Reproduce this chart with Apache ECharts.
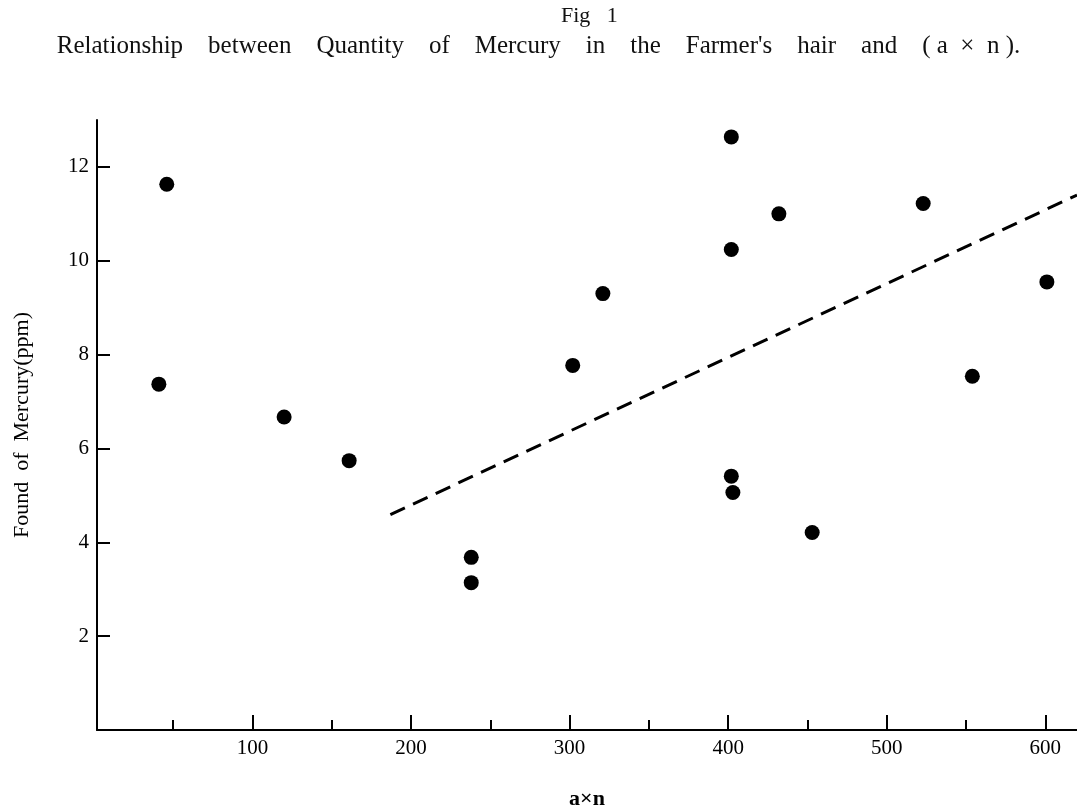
<!DOCTYPE html>
<html>
<head>
<meta charset="utf-8">
<title>Fig 1</title>
<script src="https://cdn.jsdelivr.net/npm/echarts@6/dist/echarts.min.js"></script>
<style>
  html, body {
    margin: 0;
    padding: 0;
    background: #fff;
  }
  #main {
    width: 1077px;
    height: 809px;
  }
</style>
</head>
<body>
<div id="main"></div>
<script>
// a x n for each farmer
var axn = [41, 46, 120, 161, 238, 238, 302, 321, 402, 402, 402, 403, 432, 453, 523, 554, 601];
// mercury found in hair (ppm)
var mercury = [7.37, 11.63, 6.67, 5.74, 3.68, 3.14, 7.77, 9.3, 12.64, 10.24, 5.41, 5.06, 11.0, 4.21, 11.22, 7.54, 9.55];
// dashed trend line, two end points
var trendX = [187, 620];
var trendY = [4.59, 11.4];
// tick labels
var xMajorTicks = [100, 200, 300, 400, 500, 600];
var xMinorTicks = [50, 150, 250, 350, 450, 550];
var yTicks = [2, 4, 6, 8, 10, 12];

var serif = "'Liberation Serif', 'DejaVu Serif', serif";

var points = axn.map(function(x, i) {
  return [x, mercury[i]];
});
var trend = trendX.map(function(x, i) {
  return [x, trendY[i]];
});

var myChart = echarts.init(document.getElementById("main"));
myChart.setOption({
  backgroundColor: "#fff",
  animation: false,
  title: [
    {
      text: "Fig   1",
      left: 556,
      top: 0,
      textStyle: {
        fontFamily: serif,
        fontWeight: "normal",
        fontSize: 22,
        color: "#111"
      }
    },
    {
      text: "Relationship    between    Quantity    of    Mercury    in    the    Farmer's    hair    and    ( a  ×  n ).",
      left: "center",
      top: 29,
      textStyle: {
        fontFamily: serif,
        fontWeight: "normal",
        fontSize: 25,
        color: "#111"
      }
    }
  ],
  grid: {
    left: 97,
    right: 0,
    top: 120,
    bottom: 79,
    outerBoundsMode: "none"
  },
  xAxis: [
    {
      type: "value",
      min: 2,
      max: 620,
      name: "a×n",
      nameLocation: "middle",
      nameGap: 58,
      nameTextStyle: {
        fontFamily: serif,
        fontWeight: "bold",
        fontSize: 22,
        color: "#000"
      },
      axisLine: {
        show: true,
        lineStyle: { color: "#000", width: 2 }
      },
      axisTick: {
        show: true,
        inside: true,
        length: 15,
        customValues: xMajorTicks,
        lineStyle: { color: "#000", width: 2 }
      },
      axisLabel: {
        customValues: xMajorTicks,
        margin: 8,
        fontFamily: serif,
        fontSize: 21,
        color: "#000"
      },
      splitLine: { show: false }
    },
    {
      // short ticks halfway between the labelled ones
      type: "value",
      min: 2,
      max: 620,
      position: "bottom",
      axisLine: { show: false },
      axisTick: {
        show: true,
        inside: true,
        length: 10,
        customValues: xMinorTicks,
        lineStyle: { color: "#000", width: 2 }
      },
      axisLabel: { show: false },
      splitLine: { show: false }
    }
  ],
  yAxis: {
    type: "value",
    min: 0,
    max: 13,
    name: "Found  of  Mercury(ppm)",
    nameLocation: "middle",
    nameGap: 64,
    nameTextStyle: {
      fontFamily: serif,
      fontSize: 22,
      color: "#000"
    },
    axisLine: {
      show: true,
      lineStyle: { color: "#000", width: 2 }
    },
    axisTick: {
      show: true,
      inside: true,
      length: 13,
      customValues: yTicks,
      lineStyle: { color: "#000", width: 2 }
    },
    axisLabel: {
      customValues: yTicks,
      margin: 8,
      fontFamily: serif,
      fontSize: 21,
      color: "#000"
    },
    splitLine: { show: false }
  },
  series: [
    {
      type: "scatter",
      data: points,
      symbol: "circle",
      symbolSize: 15,
      itemStyle: { color: "#000", opacity: 1 }
    },
    {
      type: "line",
      data: trend,
      symbol: "none",
      lineStyle: {
        color: "#000",
        width: 3,
        type: [16, 9]
      }
    }
  ]
});
</script>
</body>
</html>
